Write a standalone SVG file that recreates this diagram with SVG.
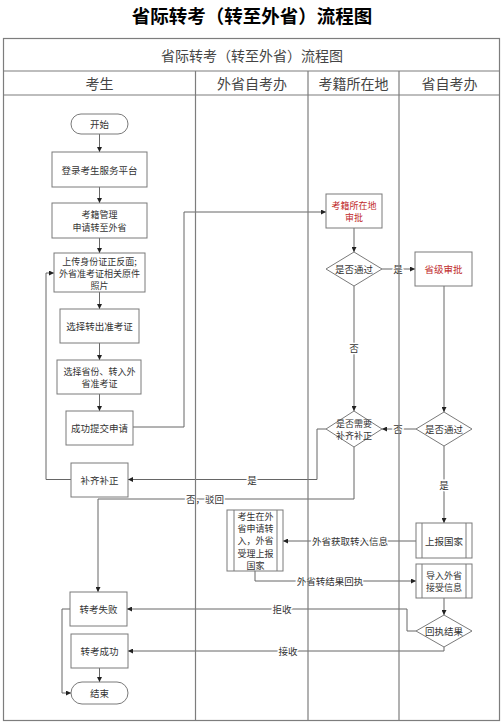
<svg xmlns="http://www.w3.org/2000/svg" width="504" height="724" viewBox="0 0 504 724">
<defs>
<style>
text{font-family:"Noto Sans CJK SC","Liberation Sans",sans-serif;fill:#333;text-anchor:middle;dominant-baseline:central}
.title{font-size:18.5px;font-weight:bold;fill:#000}
.hdr{font-size:14px;fill:#444}
.n{font-size:9.5px}
.m{font-size:9px}
.red{fill:#c0292b}
.lbl{font-size:9.5px;stroke:#fff;stroke-width:3px;paint-order:stroke;stroke-linejoin:round}
.box{fill:#fff;stroke:#7a7a7a;stroke-width:1}
.grid{fill:none;stroke:#7d7d7d;stroke-width:1.2}
.c{fill:none;stroke:#666;stroke-width:1}
.a{marker-end:url(#ah)}
</style>
<marker id="ah" viewBox="0 0 6 6" refX="6" refY="3" markerWidth="5" markerHeight="5" markerUnits="userSpaceOnUse" orient="auto">
<path d="M0,0 L6,3 L0,6 Z" fill="#222"/>
</marker>
</defs>
<rect width="504" height="724" fill="#fff"/>
<text class="title" x="252" y="15">省际转考（转至外省）流程图</text>

<g id="table-frame">
<rect class="grid" x="3.5" y="38.5" width="496" height="682"/>
<line class="grid" x1="3.5" y1="71" x2="499.5" y2="71"/>
<line class="grid" x1="3.5" y1="95" x2="499.5" y2="95"/>
<text class="hdr" x="252" y="55">省际转考（转至外省）流程图</text>
<text class="hdr" x="99.5" y="83">考生</text>
<text class="hdr" x="252" y="83">外省自考办</text>
<text class="hdr" x="353.5" y="83">考籍所在地</text>
<text class="hdr" x="449.5" y="83">省自考办</text>
</g>

<g id="connectors">
<line class="c a" x1="99.5" y1="134" x2="99.5" y2="152"/>
<line class="c a" x1="99.5" y1="187" x2="99.5" y2="203"/>
<line class="c a" x1="99.5" y1="238" x2="99.5" y2="253"/>
<line class="c a" x1="99.5" y1="292" x2="99.5" y2="309"/>
<line class="c a" x1="99.5" y1="343" x2="99.5" y2="360"/>
<line class="c a" x1="99.5" y1="394" x2="99.5" y2="411"/>
<polyline class="c a" points="133,427 184,427 184,212 326,212"/>
<line class="c a" x1="354" y1="228" x2="354" y2="252"/>
<line class="c a" x1="382" y1="269" x2="415" y2="269"/>
<text class="lbl" x="398" y="269">是</text>
<line class="c a" x1="354" y1="286" x2="354" y2="411"/>
<text class="lbl" x="354" y="348">否</text>
<line class="c a" x1="444" y1="286" x2="444" y2="412"/>
<line class="c a" x1="416" y1="429" x2="382" y2="429"/>
<text class="lbl" x="398" y="429">否</text>
<polyline class="c a" points="326,429 317,429 317,479.5 128,479.5"/>
<text class="lbl" x="252" y="479.5">是</text>
<polyline class="c a" points="71,479.5 46,479.5 46,273 54,273"/>
<polyline class="c a" points="354,447 354,499 98,499 98,592"/>
<text class="lbl" x="205" y="499">否，驳回</text>
<line class="c a" x1="444" y1="446" x2="444" y2="523"/>
<text class="lbl" x="444" y="485">是</text>
<line class="c a" x1="416" y1="541" x2="283" y2="541"/>
<text class="lbl" x="350" y="541">外省获取转入信息</text>
<polyline class="c a" points="255,571 255,581 416,581"/>
<text class="lbl" x="330" y="581">外省转结果回执</text>
<line class="c a" x1="444" y1="598" x2="444" y2="615"/>
<polyline class="c a" points="416,631 407,631 407,609 127,609"/>
<text class="lbl" x="282" y="609">拒收</text>
<polyline class="c a" points="444,647 444,651 128,651"/>
<text class="lbl" x="288" y="651">接收</text>
<line class="c a" x1="99.5" y1="668" x2="99.5" y2="682"/>
<polyline class="c a" points="70,609 62,609 62,693 71,693"/>
</g>

<g id="lane-lines">
<line class="grid" x1="195.5" y1="71" x2="195.5" y2="720.5"/>
<line class="grid" x1="308" y1="71" x2="308" y2="720.5"/>
<line class="grid" x1="399" y1="71" x2="399" y2="720.5"/>
</g>

<g id="n-start"><rect class="box" x="71" y="114" width="57" height="20" rx="10"/><text class="n" x="99.5" y="124">开始</text></g>
<g id="n-login"><rect class="box" x="52" y="152" width="95" height="35"/><text class="n" x="99.5" y="169.5">登录考生服务平台</text></g>
<g id="n-apply"><rect class="box" x="52" y="203" width="95" height="35"/><text class="m" x="99.5" y="214">考籍管理</text><text class="m" x="99.5" y="227">申请转至外省</text></g>
<g id="n-upload"><rect class="box" x="54" y="253" width="91" height="39"/><text class="m" x="99.5" y="261">上传身份证正反面;</text><text class="m" x="99.5" y="273">外省准考证相关原件</text><text class="m" x="99.5" y="285">照片</text></g>
<g id="n-select-out"><rect class="box" x="60" y="309" width="79" height="34"/><text class="n" x="99.5" y="326">选择转出准考证</text></g>
<g id="n-select-in"><rect class="box" x="57" y="360" width="84" height="34"/><text class="m" x="99.5" y="371">选择省份、转入外</text><text class="m" x="99.5" y="383">省准考证</text></g>
<g id="n-submit"><rect class="box" x="66" y="411" width="67" height="34"/><text class="n" x="99.5" y="428">成功提交申请</text></g>
<g id="n-supplement"><rect class="box" x="71" y="463" width="57" height="34"/><text class="n" x="99.5" y="480">补齐补正</text></g>
<g id="n-fail"><rect class="box" x="70" y="592" width="57" height="34"/><text class="n" x="98.5" y="609">转考失败</text></g>
<g id="n-success"><rect class="box" x="71" y="634" width="57" height="34"/><text class="n" x="99.5" y="651">转考成功</text></g>
<g id="n-end"><rect class="box" x="71" y="682" width="57" height="22" rx="11"/><text class="n" x="99.5" y="693">结束</text></g>

<g id="n-local-approve"><rect class="box" x="326" y="194" width="56" height="34"/><text class="m red" x="354" y="205">考籍所在地</text><text class="m red" x="354" y="217">审批</text></g>
<g id="n-pass1"><polygon class="box" points="354,252 382,269 354,286 326,269"/><text class="n" x="354" y="269">是否通过</text></g>
<g id="n-need"><polygon class="box" points="354,411 382,429 354,447 326,429"/><text class="m" x="354" y="423">是否需要</text><text class="m" x="354" y="435">补齐补正</text></g>

<g id="n-prov-approve"><rect class="box" x="415" y="252" width="57" height="34"/><text class="n red" x="443.5" y="269">省级审批</text></g>
<g id="n-pass2"><polygon class="box" points="444,412 472,429 444,446 416,429"/><text class="n" x="444" y="429">是否通过</text></g>
<g id="n-report"><rect class="box" x="416" y="523" width="56" height="35"/><line class="box" x1="422" y1="523" x2="422" y2="558"/><line class="box" x1="466" y1="523" x2="466" y2="558"/><text class="n" x="444" y="540.5">上报国家</text></g>
<g id="n-import"><rect class="box" x="416" y="564" width="56" height="34"/><line class="box" x1="422" y1="564" x2="422" y2="598"/><line class="box" x1="466" y1="564" x2="466" y2="598"/><text class="m" x="444" y="575">导入外省</text><text class="m" x="444" y="587">接受信息</text></g>
<g id="n-receipt"><polygon class="box" points="444,615 472,631 444,647 416,631"/><text class="n" x="444" y="631">回执结果</text></g>

<g id="n-other-prov"><rect class="box" x="227" y="510" width="56" height="61"/><line class="box" x1="234" y1="510" x2="234" y2="571"/><line class="box" x1="277" y1="510" x2="277" y2="571"/><text class="m" x="255.5" y="516">考生在外</text><text class="m" x="255.5" y="528">省申请转</text><text class="m" x="255.5" y="540.5">入，外省</text><text class="m" x="255.5" y="553">受理上报</text><text class="m" x="255.5" y="565">国家</text></g>
</svg>
